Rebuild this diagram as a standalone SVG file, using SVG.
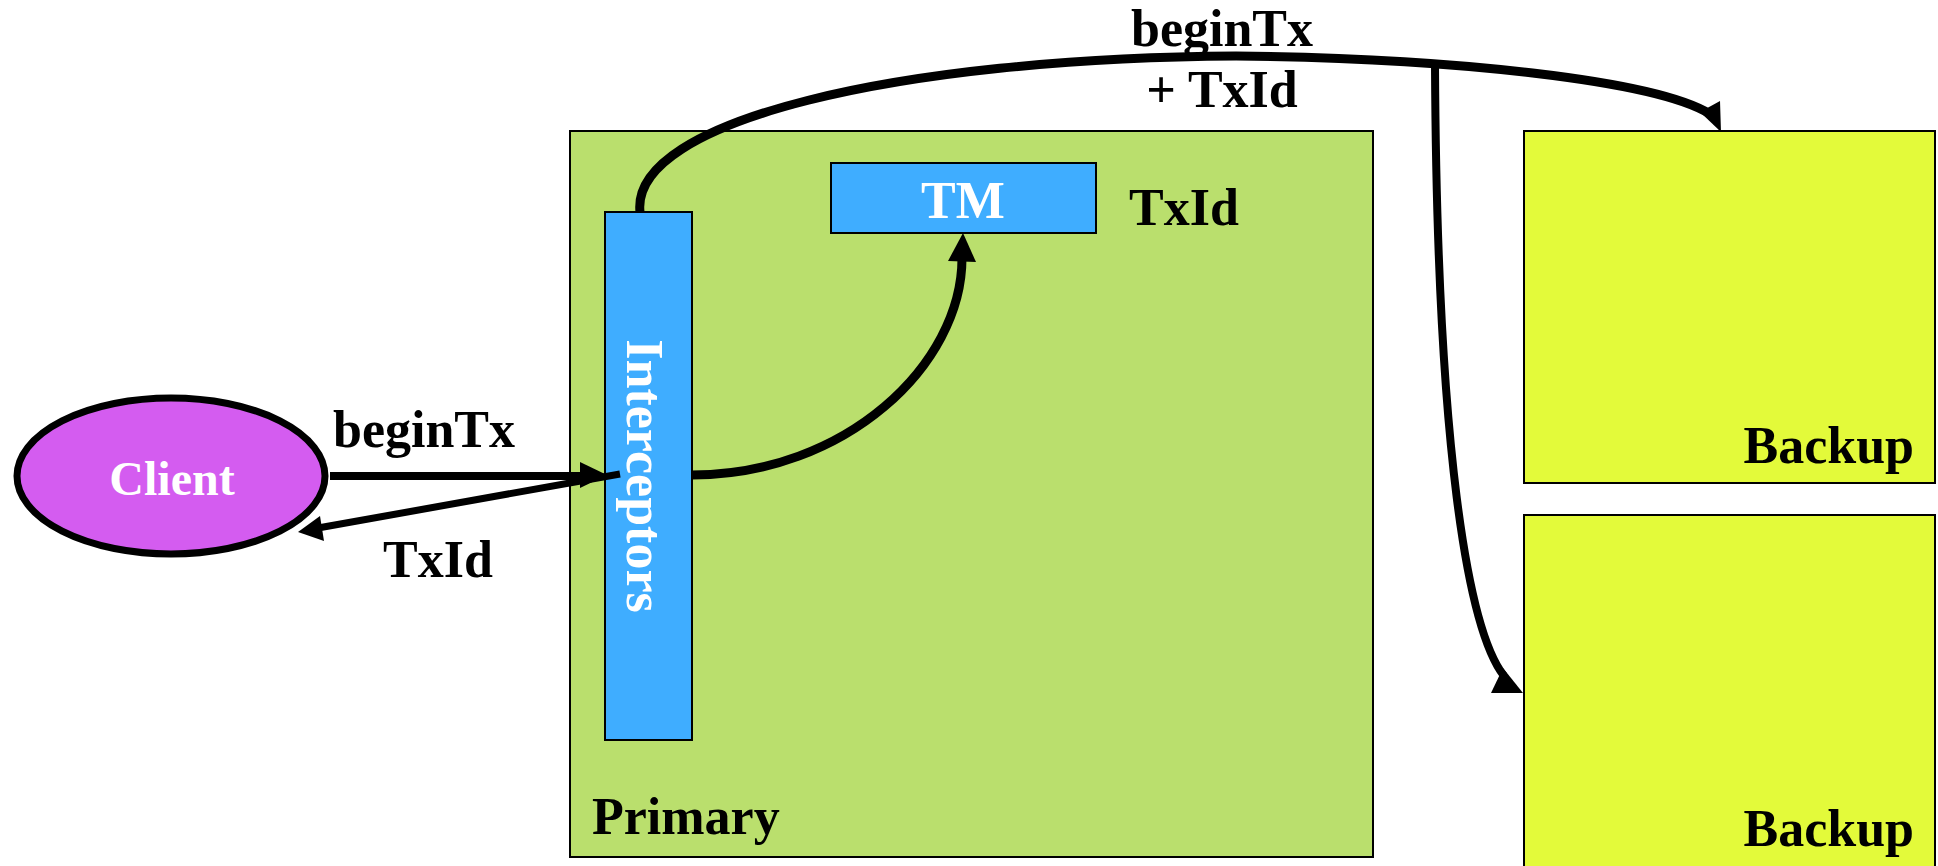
<svg xmlns="http://www.w3.org/2000/svg" width="1938" height="866" viewBox="0 0 1938 866">
  <style>
    .lbl { font-family: "Liberation Serif", "Times New Roman", serif; font-weight: bold; font-size: 52px; fill: #000; }
    .wht { font-family: "Liberation Serif", "Times New Roman", serif; font-weight: bold; font-size: 52px; fill: #fff; }
    .box { stroke: #000; stroke-width: 2; }
    .wire { fill: none; stroke: #000; stroke-width: 9; }
    .head { fill: #000; stroke: none; }
  </style>
  <rect width="1938" height="866" fill="#fff"/>

  <!-- Primary server -->
  <g id="primary">
    <rect class="box" x="570" y="131" width="803" height="726" fill="#badf6d"/>
    <text class="lbl" x="592" y="834">Primary</text>
  </g>

  <!-- Interceptor stack -->
  <g id="interceptors">
    <rect class="box" x="605" y="212" width="87" height="528" fill="#3fadff"/>
    <text class="wht" transform="translate(627,476) rotate(90)" text-anchor="middle">Interceptors</text>
  </g>

  <!-- Transaction manager -->
  <g id="tm">
    <rect class="box" x="831" y="163" width="265" height="70" fill="#3fadff"/>
    <text class="wht" x="963" y="218" text-anchor="middle">TM</text>
  </g>

  <!-- Backup servers -->
  <g id="backup1">
    <rect class="box" x="1524" y="131" width="411" height="352" fill="#e3fa3a"/>
    <text class="lbl" x="1914" y="463" text-anchor="end">Backup</text>
  </g>
  <g id="backup2">
    <rect class="box" x="1524" y="515" width="411" height="360" fill="#e3fa3a"/>
    <text class="lbl" x="1914" y="846" text-anchor="end">Backup</text>
  </g>

  <!-- Client -->
  <g id="client">
    <ellipse cx="171" cy="476" rx="154" ry="78" fill="#d45cf0" stroke="#000" stroke-width="7"/>
    <text class="wht" x="172" y="495" text-anchor="middle" style="font-size:48px">Client</text>
  </g>

  <!-- Connectors -->
  <g id="connectors">
    <!-- client -> interceptors -->
    <line class="wire" x1="330" y1="476" x2="590" y2="476" style="stroke-width:8"/>
    <polygon class="head" points="580,462 607,475 580,488"/>
    <!-- interceptors -> client (reply) -->
    <line class="wire" x1="620" y1="474" x2="318" y2="528" style="stroke-width:7"/>
    <polygon class="head" points="298,532 320,516 324,541"/>
    <!-- interceptors -> TM -->
    <path class="wire" d="M 692 475 C 845 475, 962 365, 962 258"/>
    <polygon class="head" points="963,233 948,261 976,262"/>
    <!-- interceptors -> backups -->
    <path class="wire" d="M 640 212 C 630 120, 900 58, 1236 56 C 1450 58, 1655 80, 1710 114"/>
    <polygon class="head" points="1720,101 1721,132 1700,112"/>
    <path class="wire" d="M 1435 66 C 1437 450, 1468 630, 1504 676" style="stroke-width:8"/>
    <polygon class="head" points="1491,693 1523,693 1503,668"/>
  </g>

  <!-- Message labels -->
  <g id="labels">
    <text class="lbl" x="333" y="447">beginTx</text>
    <text class="lbl" x="383" y="577">TxId</text>
    <text class="lbl" x="1129" y="225">TxId</text>
    <text class="lbl" x="1222" y="46" text-anchor="middle">beginTx</text>
    <text class="lbl" x="1222" y="107" text-anchor="middle">+ TxId</text>
  </g>
</svg>
